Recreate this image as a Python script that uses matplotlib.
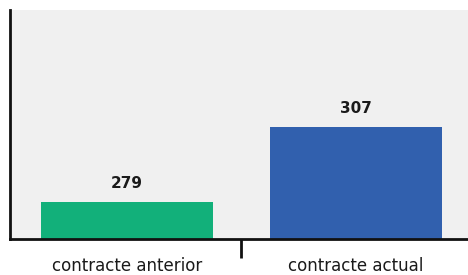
import matplotlib
matplotlib.use("Agg")
import matplotlib.pyplot as plt

categories = ["contracte anterior", "contracte actual"]
values = [279, 307]
colors = ["#12b07a", "#3160ae"]

fig = plt.figure(figsize=(4.68, 2.75), dpi=100)
ax = fig.add_axes([10 / 468, 1 - 239 / 275, 458 / 468, 229 / 275])
ax.set_facecolor("#f0f0f0")

x = list(range(len(categories)))
ax.bar(x, values, width=0.75, color=colors)
for xi, v in zip(x, values):
    ax.text(xi, v + 7, str(v), ha="center", va="center",
            fontsize=11, fontweight="bold", color="#1a1a1a")

ax.set_xlim(-0.51, 1.49)
ax.set_ylim(265.2, 350.7)
ax.set_yticks([])

ax.set_xticks(x)
ax.set_xticklabels(categories, fontsize=12, color="#1a1a1a")
ax.tick_params(axis="x", which="major", length=0, pad=13)
ax.set_xticks([0.5], minor=True)
ax.tick_params(axis="x", which="minor", length=14, width=2, color="#111111")

for side in ["top", "right"]:
    ax.spines[side].set_visible(False)
for side in ["left", "bottom"]:
    ax.spines[side].set_linewidth(2)
    ax.spines[side].set_color("#111111")

fig.savefig("out.png", dpi=100)
